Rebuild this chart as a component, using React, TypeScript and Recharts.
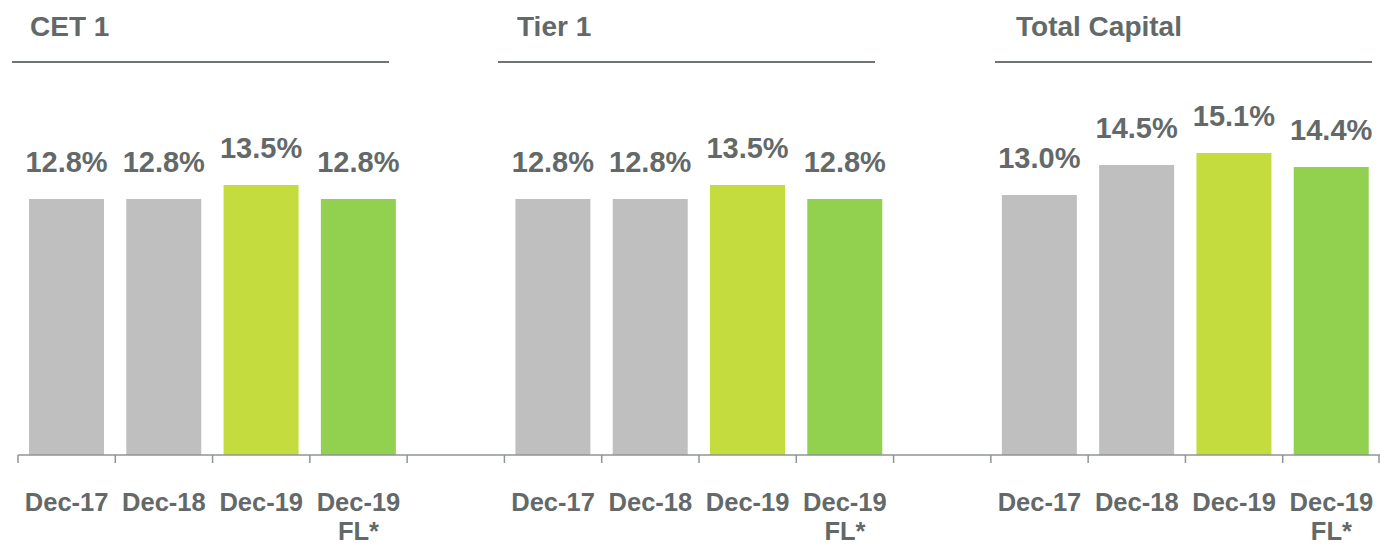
import { BarChart, Bar, XAxis, YAxis, Cell, LabelList } from 'recharts';

const groups = ['CET 1', 'Tier 1', 'Total Capital'];
const periods = ['Dec-17', 'Dec-18', 'Dec-19', 'Dec-19 FL*'];
const cet1 = [12.8, 12.8, 13.5, 12.8];
const tier1 = [12.8, 12.8, 13.5, 12.8];
const totalCapital = [13.0, 14.5, 15.1, 14.4];
const barColors = ['#bfbfbf', '#bfbfbf', '#c4dc3e', '#92d050'];

const TEXT = '#636969';
const AXIS = '#8f9494';
const WIDTH = 1380;
const HEIGHT = 546;
const LEFT = 18;

// 4 bars per group, one empty slot between groups
const data: { key: string; label: string; value: number | null; color: string }[] = [];
[cet1, tier1, totalCapital].forEach((vals, g) => {
  vals.forEach((v, i) => {
    data.push({ key: `${g}-${i}`, label: periods[i], value: v, color: barColors[i] });
  });
  if (g < 2) data.push({ key: `gap-${g}`, label: '', value: null, color: 'none' });
});

const band = (WIDTH - LEFT) / data.length;

function Tick(props: any) {
  const { x, y, index } = props;
  const item = data[index];
  const lines = item ? item.label.split(' ') : [];
  return (
    <g>
      <line x1={x - band / 2} x2={x - band / 2} y1={y} y2={y + 8} stroke={AXIS} strokeWidth={1.5} />
      {index === data.length - 1 && (
        <line x1={x + band / 2 - 1} x2={x + band / 2 - 1} y1={y} y2={y + 8} stroke={AXIS} strokeWidth={1.5} />
      )}
      {lines.map((l, i) => (
        <text key={i} x={x} y={y + 56 + i * 29} textAnchor="middle" fill={TEXT} fontSize={25.5} fontWeight="bold">
          {l}
        </text>
      ))}
    </g>
  );
}

function ValueLabel(props: any) {
  const { x, y, width, value } = props;
  if (value == null) return null;
  return (
    <text x={x + width / 2} y={y - 27} textAnchor="middle" fill={TEXT} fontSize={29} fontWeight="bold">
      {Number(value).toFixed(1)}%
    </text>
  );
}

const titleLeft = [30, 517, 1016];
const ruleSpans = [[12, 389], [498, 875], [995, 1372]];

export default function App() {
  return (
    <div style={{ position: 'relative', width: WIDTH, height: HEIGHT, fontFamily: '"Liberation Sans", Arial, sans-serif' }}>
      <style>{'body{margin:0}'}</style>
      {groups.map((g, i) => (
        <div key={g}>
          <div
            style={{
              position: 'absolute',
              left: titleLeft[i],
              top: 10,
              fontSize: 28,
              fontWeight: 'bold',
              color: TEXT,
              lineHeight: '34px',
            }}
          >
            {g}
          </div>
          <div
            style={{
              position: 'absolute',
              left: ruleSpans[i][0],
              width: ruleSpans[i][1] - ruleSpans[i][0],
              top: 61,
              height: 2,
              background: '#6f7575',
            }}
          />
        </div>
      ))}
      <BarChart
        width={WIDTH}
        height={HEIGHT}
        data={data}
        margin={{ top: 55, right: 0, bottom: 0, left: LEFT }}
        style={{ fontFamily: '"Liberation Sans", Arial, sans-serif' }}
      >
        <XAxis
          dataKey="key"
          height={91}
          interval={0}
          tickLine={false}
          tickSize={0}
          tickMargin={0}
          axisLine={{ stroke: AXIS, strokeWidth: 1.5 }}
          tick={<Tick />}
        />
        <YAxis hide domain={[0, 20]} width={0} />
        <Bar dataKey="value" barSize={75} isAnimationActive={false}>
          {data.map((d) => (
            <Cell key={d.key} fill={d.color} />
          ))}
          <LabelList dataKey="value" content={<ValueLabel />} />
        </Bar>
      </BarChart>
    </div>
  );
}
